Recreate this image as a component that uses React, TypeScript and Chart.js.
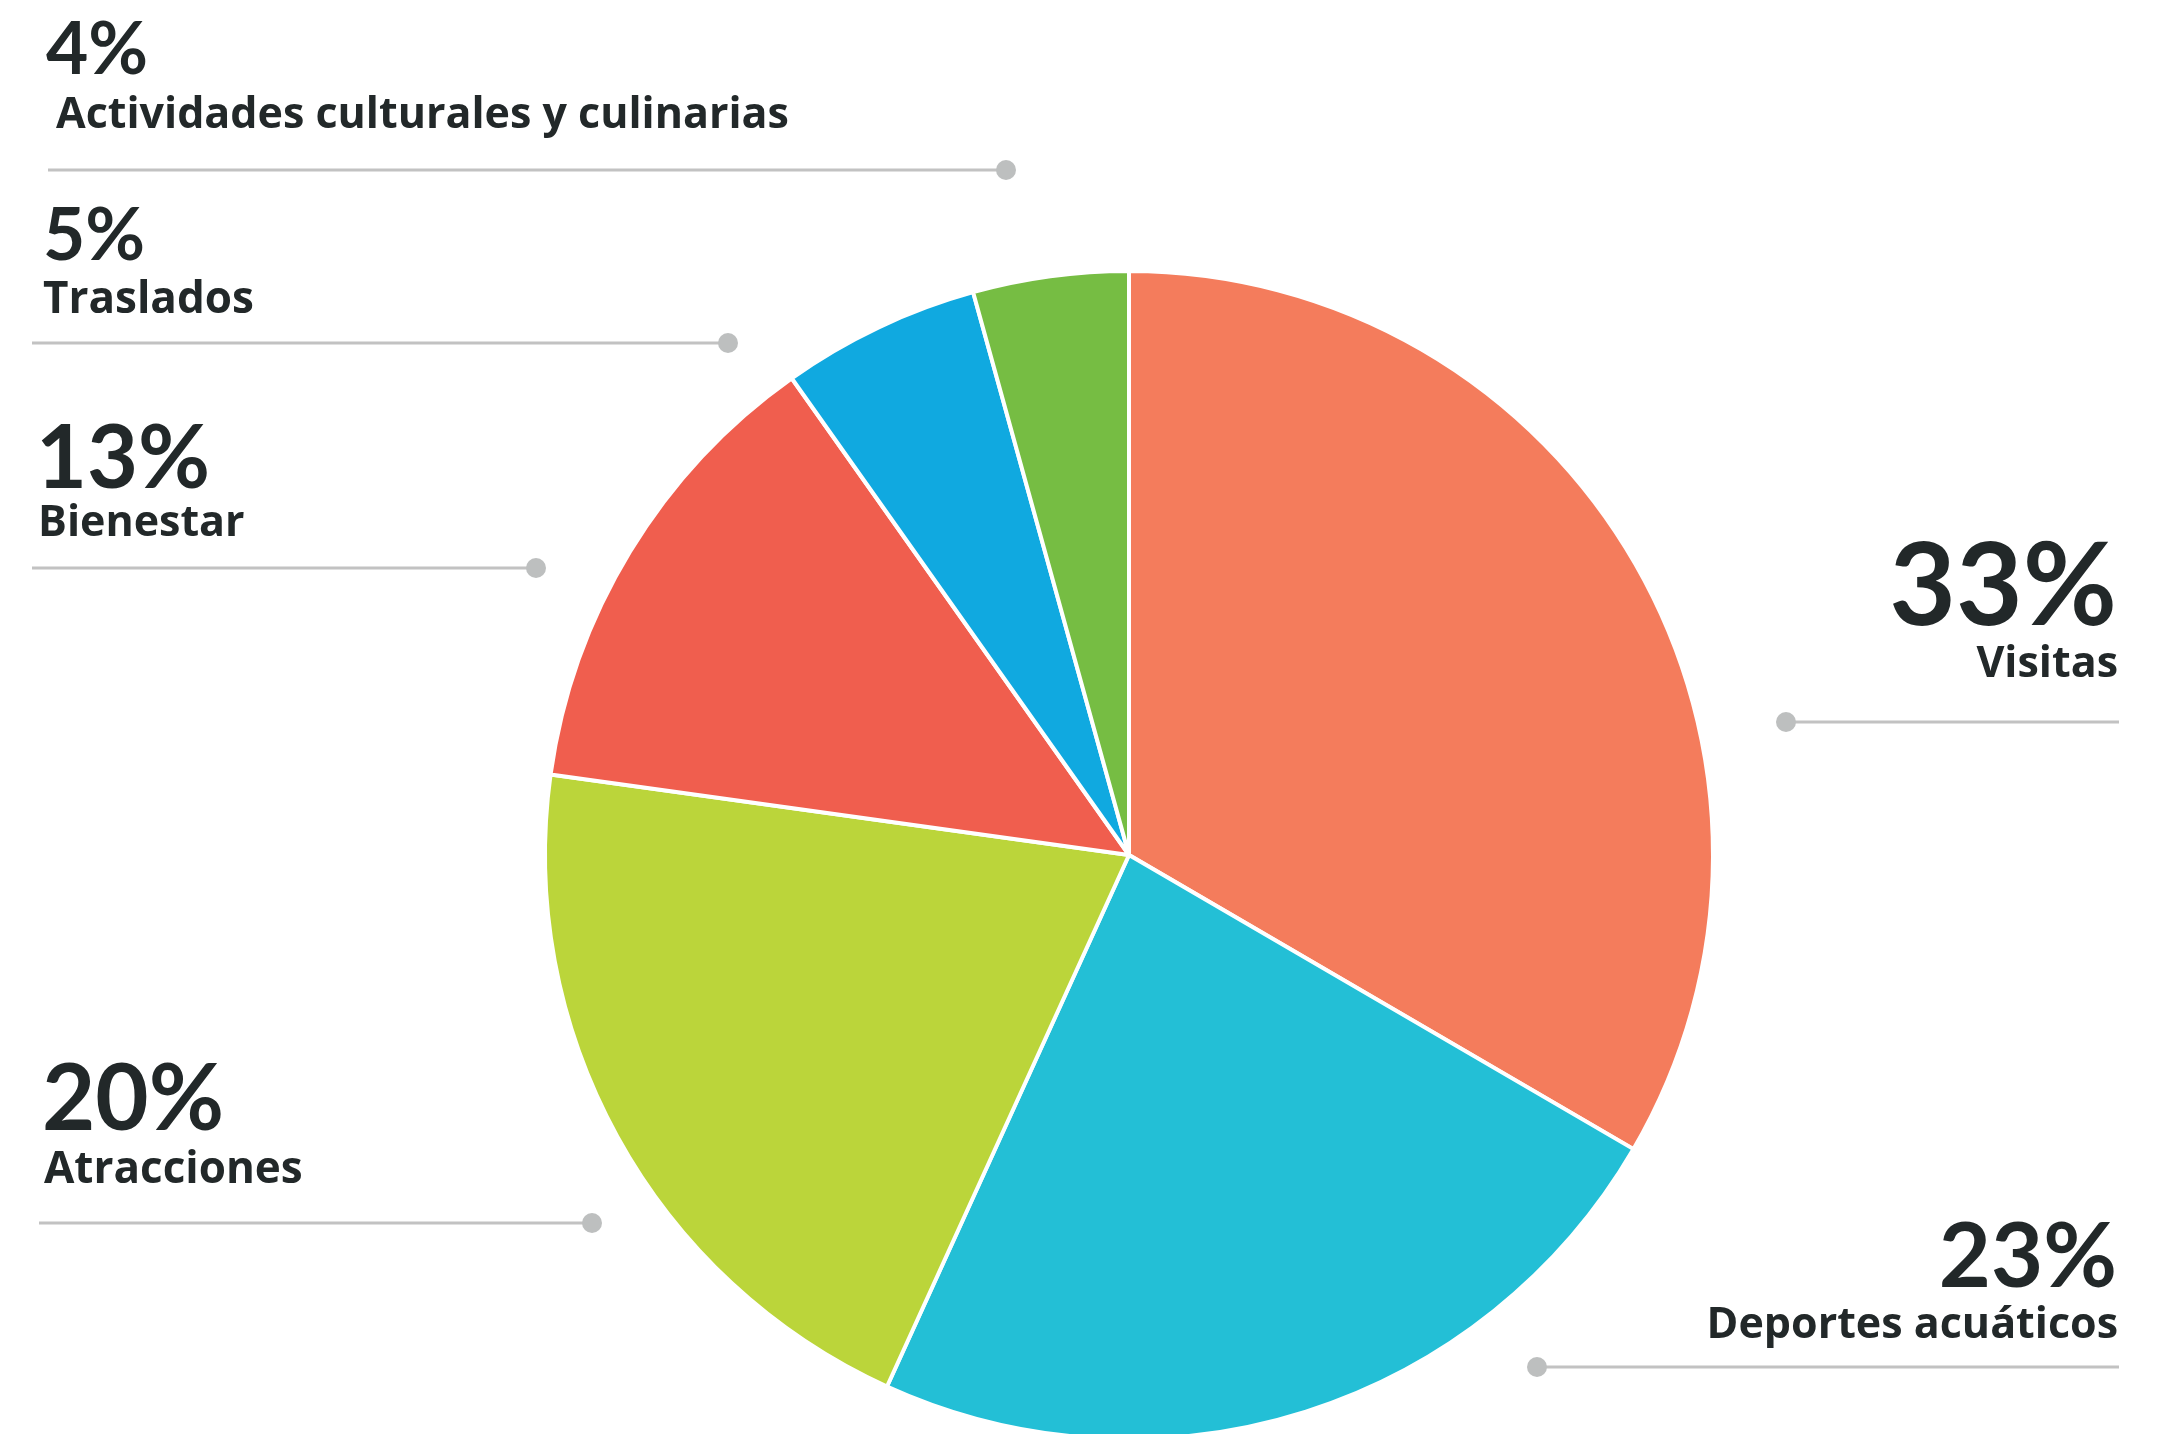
import React, { useEffect, useRef } from "react";
import { Chart, registerables } from "chart.js";

Chart.register(...registerables);

// ---- data ----
const categories = [
  "Visitas",
  "Deportes acuáticos",
  "Atracciones",
  "Bienestar",
  "Traslados",
  "Actividades culturales y culinarias",
];
const shares = [33.4, 23.4, 20.4, 13.0, 5.5, 4.3];
const shareLabels = ["33%", "23%", "20%", "13%", "5%", "4%"];
const sliceColors = ["#F47C5C", "#23BFD6", "#BBD53A", "#F05E4E", "#10A9E0", "#76BD43"];

// ---- label layout (position only, not data) ----
type LabelLayout = {
  align: "left" | "right";
  x: number;
  nameX: number;
  pctBase: number;
  pctSize: number;
  nameBase: number;
  nameSize: number;
  lineY: number;
  lineFrom: number;
  lineTo: number;
  dotX: number;
};
const labelLayout: LabelLayout[] = [
  { align: "right", x: 2117, nameX: 2118, pctBase: 625, pctSize: 115, nameBase: 677, nameSize: 43, lineY: 722, lineFrom: 1786, lineTo: 2119, dotX: 1786 },
  { align: "right", x: 2117, nameX: 2118, pctBase: 1287, pctSize: 90, nameBase: 1338, nameSize: 43, lineY: 1367, lineFrom: 1537, lineTo: 2119, dotX: 1537 },
  { align: "left", x: 42, nameX: 44, pctBase: 1130, pctSize: 92, nameBase: 1183, nameSize: 44, lineY: 1223, lineFrom: 39, lineTo: 592, dotX: 592 },
  { align: "left", x: 36, nameX: 38, pctBase: 488, pctSize: 88, nameBase: 536, nameSize: 43, lineY: 568, lineFrom: 32, lineTo: 536, dotX: 536 },
  { align: "left", x: 43, nameX: 43, pctBase: 260, pctSize: 73, nameBase: 313, nameSize: 44, lineY: 343, lineFrom: 32, lineTo: 728, dotX: 728 },
  { align: "left", x: 46, nameX: 56, pctBase: 74, pctSize: 73, nameBase: 128, nameSize: 43, lineY: 170, lineFrom: 48, lineTo: 1006, dotX: 1006 },
];

const PCT_FONT = "Lato, 'Noto Sans', sans-serif";
const NAME_FONT = "'Open Sans', 'Noto Sans', sans-serif";
const TEXT_COLOR = "#222829";
const LINE_COLOR = "#C2C2C2";

const labelPlugin = {
  id: "sideLabels",
  afterDraw(chart: any) {
    const ctx: CanvasRenderingContext2D = chart.ctx;
    ctx.save();
    labelLayout.forEach((l, i) => {
      ctx.strokeStyle = LINE_COLOR;
      ctx.lineWidth = 3;
      ctx.beginPath();
      ctx.moveTo(l.lineFrom, l.lineY);
      ctx.lineTo(l.lineTo, l.lineY);
      ctx.stroke();
      ctx.fillStyle = "#BDBFBF";
      ctx.beginPath();
      ctx.arc(l.dotX, l.lineY, 10, 0, Math.PI * 2);
      ctx.fill();

      ctx.fillStyle = TEXT_COLOR;
      ctx.textAlign = l.align;
      ctx.textBaseline = "alphabetic";
      ctx.font = `700 ${l.pctSize}px ${PCT_FONT}`;
      ctx.fillText(shareLabels[i], l.x, l.pctBase);
      ctx.font = `700 ${l.nameSize}px ${NAME_FONT}`;
      ctx.fillText(categories[i], l.nameX, l.nameBase);
    });
    ctx.restore();
  },
};

export default function App() {
  const ref = useRef<HTMLCanvasElement | null>(null);
  useEffect(() => {
    document.body.style.margin = "0";
    const canvas = ref.current!;
    const chart = new Chart(canvas, {
      type: "pie",
      data: {
        labels: categories,
        datasets: [
          {
            data: shares,
            backgroundColor: sliceColors,
            borderColor: "#FFFFFF",
            borderWidth: 4,
            clip: false as any,
          } as any,
        ],
      },
      options: {
        animation: false,
        responsive: false,
        events: [],
        radius: 584,
        layout: { padding: { left: 86, right: 0, top: 276, bottom: 0 } },
        plugins: { legend: { display: false }, tooltip: { enabled: false } },
      } as any,
      plugins: [labelPlugin],
    });
    return () => chart.destroy();
  }, []);
  return (
    <div style={{ width: 2172, height: 1434, background: "#fff" }}>
      <canvas ref={ref} width={2172} height={1434} style={{ display: "block" }} />
    </div>
  );
}
